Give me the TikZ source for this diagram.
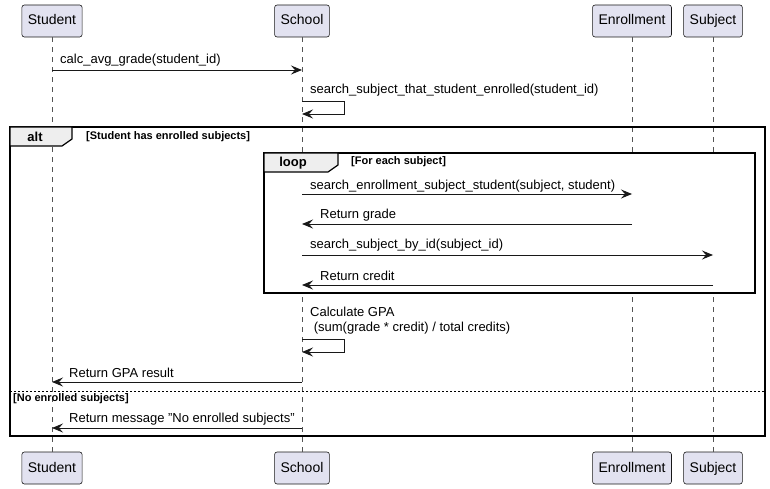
\documentclass[tikz,border=0pt]{standalone}
\usepackage{fontspec}
\setmainfont{Liberation Sans}[Ligatures=ResetAll]
\usetikzlibrary{arrows.meta}
\definecolor{partfill}{HTML}{E2E2F0}
\definecolor{partline}{HTML}{181818}
\definecolor{tabfill}{HTML}{EEEEEE}
\definecolor{lifeline}{HTML}{555555}
\begin{document}
\begin{tikzpicture}[x=1pt,y=-1pt,
  part/.style={draw=partline,fill=partfill,rounded corners=2.5pt,line width=0.6pt,
    minimum height=32pt,inner xsep=6pt,text height=10.5pt,text depth=2.5pt,font=\fontsize{14}{16}\selectfont},
  life/.style={draw=lifeline,dash pattern=on 5pt off 5pt,line width=0.5pt},
  msg/.style={draw=partline,line width=0.9pt,-{Stealth[length=11pt,width=9pt,inset=4pt]}},
  lbl/.style={anchor=west,inner sep=0pt,font=\fontsize{13}{15}\selectfont},
  frame/.style={draw=black,line width=1.5pt},
  tab/.style={draw=black,fill=tabfill,line width=1.2pt},
  tabtxt/.style={inner sep=0pt,font=\fontsize{13}{15}\selectfont\bfseries},
  guard/.style={anchor=west,inner sep=0pt,font=\fontsize{11}{13}\selectfont\bfseries}]
\useasboundingbox (0,0) rectangle (770,489);
% participants
\node[part] (st) at (52,21) {Student};
\node[part] (sc) at (302,21) {School};
\node[part] (en) at (632,21) {Enrollment};
\node[part] (su) at (713,21) {Subject};
\node[part] (st2) at (52,468) {Student};
\node[part] (sc2) at (302,468) {School};
\node[part] (en2) at (632,468) {Enrollment};
\node[part] (su2) at (713,468) {Subject};
% lifelines
\draw[life] (st) -- (st2);
\draw[life] (sc) -- (sc2);
\draw[life] (en) -- (en2);
\draw[life] (su) -- (su2);
% frames
\draw[frame] (10,127) rectangle (765,436);
\draw[tab] (10,127) -- (72,127) -- (72,139) -- (62,146) -- (10,146) -- cycle;
\node[tabtxt] (altt) at (35,137) {alt};
\node[guard] (g1) at (86,137) {[Student has enrolled subjects]};
\draw[frame,fill=white] (264,153) rectangle (755,293);
\draw[tab] (264,153) -- (338,153) -- (338,165) -- (328,172) -- (264,172) -- cycle;
\node[tabtxt] (loopt) at (293,163) {loop};
\node[guard] (g2) at (351,162) {[For each subject]};
\draw[draw=black,line width=0.8pt,dash pattern=on 2pt off 2pt] (10,391) -- (765,391);
\node[guard] (g3) at (13,399) {[No enrolled subjects]};
% messages
\coordinate (m1a) at (st |- 0,70); \coordinate (m1b) at (sc |- 0,70);
\draw[msg] (m1a) -- (m1b);
\node[lbl] (t1) at (60,60) {calc\_avg\_grade(student\_id)};
\coordinate (m2a) at (sc |- 0,101); \coordinate (m2b) at (sc |- 0,114);
\draw[msg] (m2a) -- (344,101) -- (344,114) -- (m2b);
\node[lbl] (t2) at (310,90) {search\_subject\_that\_student\_enrolled(student\_id)};
\coordinate (m3a) at (sc |- 0,194); \coordinate (m3b) at (en |- 0,194);
\draw[msg] (m3a) -- (m3b);
\node[lbl] (t3) at (310,186) {search\_enrollment\_subject\_student(subject, student)};
\coordinate (m4a) at (en |- 0,224); \coordinate (m4b) at (sc |- 0,224);
\draw[msg] (m4a) -- (m4b);
\node[lbl] (t4) at (320,215) {Return grade};
\coordinate (m5a) at (sc |- 0,255); \coordinate (m5b) at (su |- 0,255);
\draw[msg] (m5a) -- (m5b);
\node[lbl] (t5) at (310,245) {search\_subject\_by\_id(subject\_id)};
\coordinate (m6a) at (su |- 0,285); \coordinate (m6b) at (sc |- 0,285);
\draw[msg] (m6a) -- (m6b);
\node[lbl] (t6) at (320,276) {Return credit};
\coordinate (m7a) at (sc |- 0,339); \coordinate (m7b) at (sc |- 0,352);
\draw[msg] (m7a) -- (344,339) -- (344,352) -- (m7b);
\node[lbl,align=left,font=\fontsize{13}{15}\selectfont] (t7) at (310,321) {Calculate GPA\\\ (sum(grade * credit) / total credits)};
\coordinate (m8a) at (sc |- 0,382); \coordinate (m8b) at (st |- 0,382);
\draw[msg] (m8a) -- (m8b);
\node[lbl] (t8) at (69,373) {Return GPA result};
\coordinate (m9a) at (sc |- 0,428); \coordinate (m9b) at (st |- 0,428);
\draw[msg] (m9a) -- (m9b);
\node[lbl] (t9) at (69,419) {Return message "No enrolled subjects"};
\end{tikzpicture}
\end{document}
